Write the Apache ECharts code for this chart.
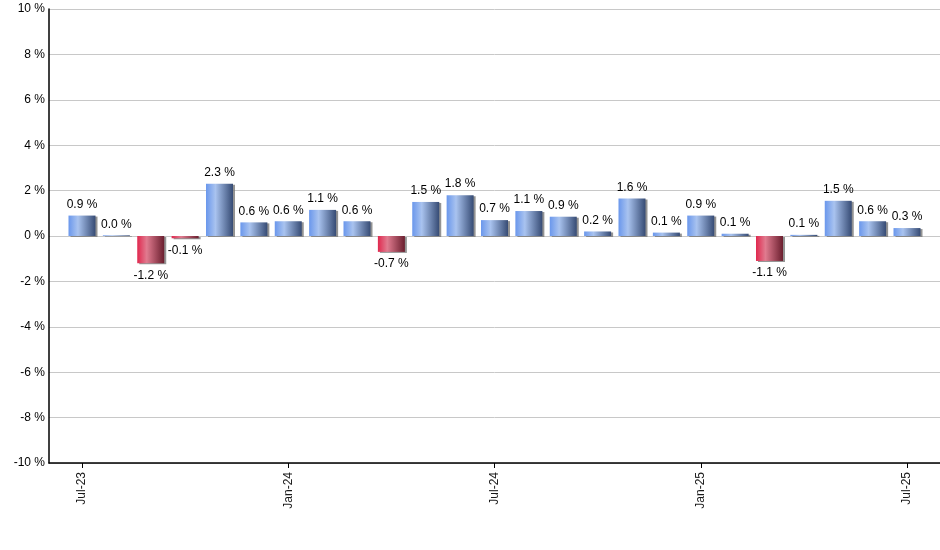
<!DOCTYPE html>
<html lang="en">
<head>
    <meta charset="UTF-8">
    <title>Monthly change</title>
    <script src="https://cdn.jsdelivr.net/npm/echarts@6/dist/echarts.min.js"></script>
    <style>
        html, body { margin: 0; padding: 0; background: #fff; }
        #chart { width: 940px; height: 550px; }
    </style>
</head>
<body>
    <div id="chart"></div>
    <script>
        // months Jul-23 .. Jul-25
        const months = ['Jul-23', 'Aug-23', 'Sep-23', 'Oct-23', 'Nov-23', 'Dec-23',
            'Jan-24', 'Feb-24', 'Mar-24', 'Apr-24', 'May-24', 'Jun-24',
            'Jul-24', 'Aug-24', 'Sep-24', 'Oct-24', 'Nov-24', 'Dec-24',
            'Jan-25', 'Feb-25', 'Mar-25', 'Apr-25', 'May-25', 'Jun-25', 'Jul-25'];
        const changes = [0.9, 0.03, -1.2, -0.1, 2.3, 0.6, 0.65, 1.15, 0.65, -0.7, 1.5, 1.8,
            0.7, 1.1, 0.85, 0.2, 1.65, 0.15, 0.9, 0.1, -1.1, 0.05, 1.55, 0.65, 0.35];
        const labels = ['0.9 %', '0.0 %', '-1.2 %', '-0.1 %', '2.3 %', '0.6 %', '0.6 %', '1.1 %',
            '0.6 %', '-0.7 %', '1.5 %', '1.8 %', '0.7 %', '1.1 %', '0.9 %', '0.2 %', '1.6 %',
            '0.1 %', '0.9 %', '0.1 %', '-1.1 %', '0.1 %', '1.5 %', '0.6 %', '0.3 %'];
        const shownTicks = [0, 6, 12, 18, 24];
        const yTicks = [-10, -8, -6, -4, -2, 0, 2, 4, 6, 8, 10];

        const blueFill = new echarts.graphic.LinearGradient(0, 0, 1, 0, [
            { offset: 0, color: '#6a97ec' },
            { offset: 0.35, color: '#a9c3ef' },
            { offset: 1, color: '#364b74' }
        ]);
        const redFill = new echarts.graphic.LinearGradient(0, 0, 1, 0, [
            { offset: 0, color: '#e0284e' },
            { offset: 0.35, color: '#e07b8f' },
            { offset: 1, color: '#6a1e2e' }
        ]);

        const chart = echarts.init(document.getElementById('chart'), null, { renderer: 'canvas' });

        const option = {
            animation: false,
            textStyle: { fontFamily: 'Liberation Sans, Arial, sans-serif' },
            grid: { left: 49, right: 0, top: 9, bottom: 87 },
            xAxis: {
                type: 'value',
                min: -0.96,
                max: 24.96,
                splitLine: { show: false },
                axisLine: { onZero: false, lineStyle: { color: '#000', width: 1.5 } },
                axisTick: { show: true, customValues: shownTicks, length: 5, lineStyle: { color: '#000' } },
                axisLabel: {
                    customValues: shownTicks,
                    rotate: 90,
                    color: '#1a1a1a',
                    fontSize: 12,
                    margin: 9,
                    formatter: v => months[Math.round(v)]
                }
            },
            yAxis: {
                type: 'value',
                min: yTicks[0],
                max: yTicks[yTicks.length - 1],
                interval: 2,
                axisLine: { show: true, onZero: false, lineStyle: { color: '#000', width: 1.5 } },
                axisTick: { show: false },
                axisLabel: { formatter: '{value} %', color: '#000', fontSize: 12, margin: 4 },
                splitLine: { lineStyle: { color: '#c8c8c8', width: 1 } }
            },
            series: [{
                type: 'bar',
                barWidth: 27,
                data: changes.map((v, i) => ({
                    value: [i, v],
                    itemStyle: { color: v < 0 ? redFill : blueFill },
                    label: {
                        show: true,
                        position: v < 0 ? 'bottom' : 'top',
                        distance: v < 0 ? 6 : 5,
                        formatter: labels[i],
                        color: '#000',
                        fontSize: 12
                    }
                })),
                itemStyle: {
                    shadowColor: 'rgba(120,120,120,0.8)',
                    shadowOffsetX: 2,
                    shadowOffsetY: 1,
                    shadowBlur: 0
                }
            }]
        };
        chart.setOption(option);
    </script>
</body>
</html>
